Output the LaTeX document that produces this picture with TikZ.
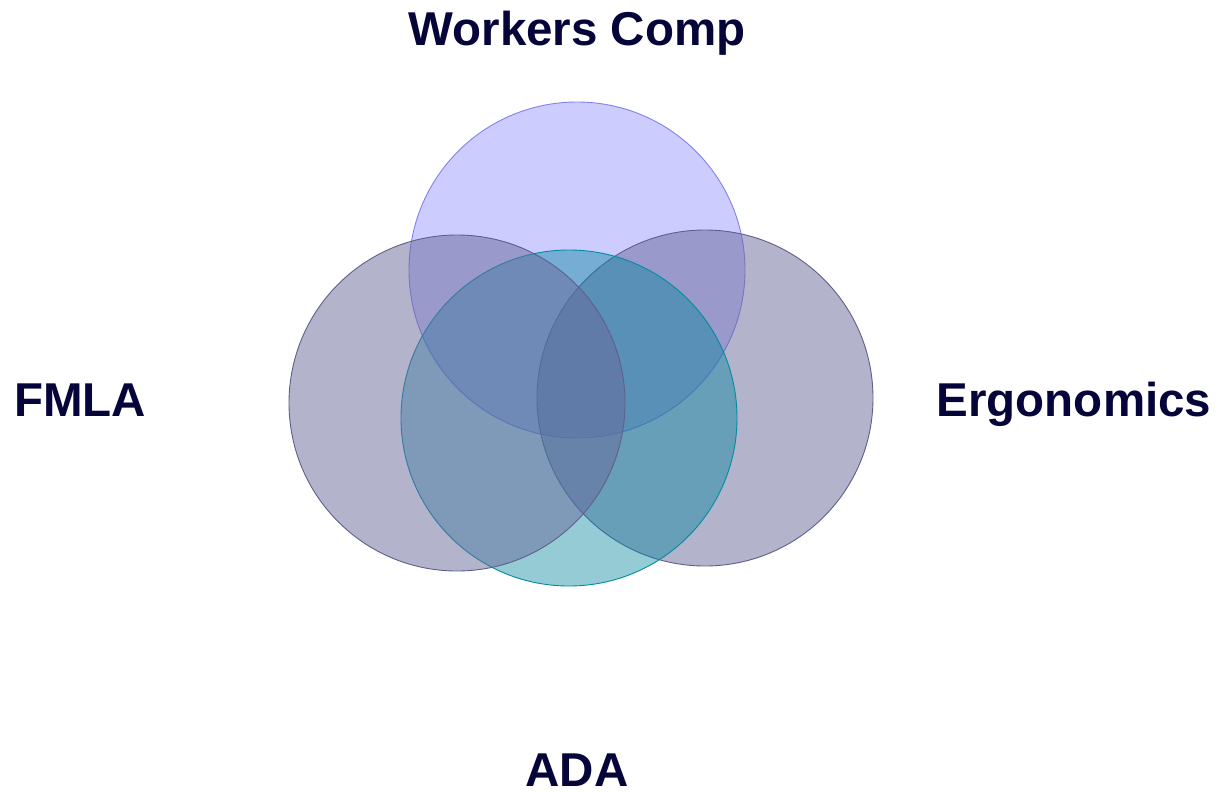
\documentclass[tikz,border=0pt]{standalone}
\usepackage{fontspec}
\setmainfont{Liberation Sans}
\begin{document}
\begin{tikzpicture}[x=1pt,y=-1pt,
  lbl/.style={font=\fontsize{47.5}{56}\selectfont\bfseries, text=labelnavy, anchor=base, inner sep=0pt},
  ring/.style={line width=0.9pt}]
\definecolor{labelnavy}{HTML}{05053A}
\definecolor{wcfill}{RGB}{0,0,255}
\definecolor{wcline}{RGB}{130,130,235}
\definecolor{sidefill}{RGB}{105,105,155}
\definecolor{sideline}{RGB}{95,95,140}
\definecolor{adafill}{RGB}{0,132,156}
\definecolor{adaline}{RGB}{0,140,160}
\useasboundingbox (0,0) rectangle (1218,792);
% four overlapping translucent circles, back to front
\fill[wcfill, fill opacity=0.2] (577,270) circle (168);
\draw[ring, wcline] (577,270) circle (168);
\fill[sidefill, fill opacity=0.51] (705,398) circle (168);
\draw[ring, sideline] (705,398) circle (168);
\fill[adafill, fill opacity=0.42] (569,418) circle (168);
\draw[ring, adaline] (569,418) circle (168);
\fill[sidefill, fill opacity=0.51] (457,403) circle (168);
\draw[ring, sideline] (457,403) circle (168);
% labels
\node[lbl] (wc) at (577,46) {Workers Comp};
\node[lbl] (fmla) at (80,416) {FMLA};
\node[lbl] (ergo) at (1074,416) {Ergonomics};
\node[lbl] (ada) at (577,786) {ADA};
\end{tikzpicture}
\end{document}
